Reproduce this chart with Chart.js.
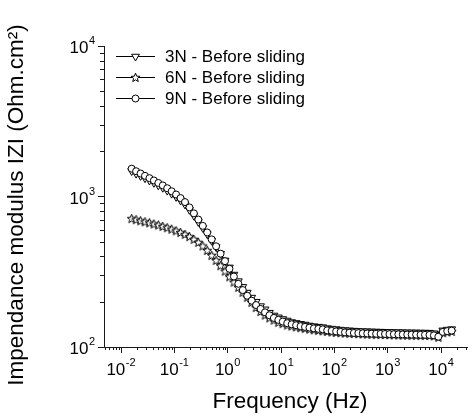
<!DOCTYPE html>
<html>
<head>
<meta charset="utf-8">
<title>Impendance modulus</title>
<script src="https://cdn.jsdelivr.net/npm/chart.js@4.4.1/dist/chart.umd.min.js"></script>
<style>
  html, body { margin: 0; padding: 0; background: #fff; }
  #wrap { width: 476px; height: 419px; }
</style>
</head>
<body>
<div id="wrap"><canvas id="impChart" width="476" height="419"></canvas></div>
<script>
// frequences (Hz)
const freq = [
  0.01585, 0.0192, 0.02326, 0.02818, 0.03415, 0.04137, 0.05012, 0.06072, 0.07356, 0.08913,
  0.108, 0.1308, 0.1585, 0.192, 0.2326, 0.2818, 0.3415, 0.4137, 0.5012, 0.6072, 0.7356, 0.8913,
  1.08, 1.308, 1.585, 1.92, 2.326, 2.818, 3.415, 4.137, 5.012, 6.072, 7.356, 8.913,
  10.8, 13.08, 15.85, 19.2, 23.26, 28.18, 34.15, 41.37, 50.12, 60.72, 73.56, 89.13,
  108, 130.8, 158.5, 192, 232.6, 281.8, 341.5, 413.7, 501.2, 607.2, 735.6, 891.3,
  1080, 1308, 1585, 1920, 2326, 2818, 3415, 4137, 5012, 6072, 7356, 8913,
  10800, 13080, 15850
];

// |Z| (Ohm.cm2)
const z3N = [
  1477, 1420, 1372, 1324, 1278, 1233, 1187, 1144, 1095, 1045,
  995, 942, 886, 816, 746, 678, 619, 563, 509, 462,
  417, 376, 338, 303, 274, 251, 230, 213, 200, 187,
  178, 169, 162, 157.5, 153.5, 150, 146.5, 144.5, 142.5, 141,
  139, 137.5, 136.5, 135.5, 133.5, 132.5, 131.5, 130.5, 129.5, 129,
  128.5, 128, 127.5, 127.3, 127, 126.7, 126.5, 126.3, 126, 125.8,
  125.6, 125.4, 125.2, 125.1, 125, 124.8, 124.7, 124.5, 123.5, 121,
  129, 130.5, 131.5
];
const z6N = [
  713, 702, 690, 679, 668, 657, 646, 633, 620, 607,
  592, 576, 560, 541, 519, 496, 469, 438, 406, 376,
  347, 319, 293, 270, 249, 231, 214, 198, 183, 172,
  163, 156, 151, 146, 143, 140, 138, 136, 134.5, 133,
  131.5, 130.3, 129, 128, 127, 126, 125, 124.5, 124, 123.5,
  123, 122.6, 122.3, 122, 121.7, 121.5, 121.3, 121, 120.8, 120.6,
  120.4, 120.2, 120, 119.9, 119.8, 119.6, 119.5, 119.3, 118.5, 116,
  124.5, 126, 127
];
const z9N = [
  1531, 1472, 1422, 1372, 1324, 1278, 1230, 1185, 1135, 1083,
  1031, 976, 918, 846, 773, 703, 638, 577, 519, 467,
  417, 372, 331, 294, 263, 239, 219, 203, 190, 179,
  170, 162.5, 156, 151.5, 147.5, 144, 141.5, 139.5, 137.5, 136,
  134.5, 133, 132, 131, 129, 128, 127, 126, 125, 124.5,
  124, 123.7, 123.3, 123, 122.7, 122.4, 122.2, 122, 121.8, 121.6,
  121.4, 121.2, 121, 120.9, 120.8, 120.6, 120.5, 120.3, 119.5, 117,
  126, 127.5, 128.5
];

const seriesNames = ["3N - Before sliding", "6N - Before sliding", "9N - Before sliding"];
const xTickExp = [-2, -1, 0, 1, 2, 3, 4];
const yTickExp = [2, 3, 4];
const xTitle = "Frequency (Hz)";
const yTitle = "Impendance modulus IZI (Ohm.cm²)";

const fontFam = '"Liberation Sans", Arial, sans-serif';
const axisColor = '#1a1a1a';

// etoile a 5 branches (Chart.js n'a que l'asterisque)
function makeStar() {
  const c = document.createElement('canvas');
  c.width = 11;
  c.height = 11;
  const g = c.getContext('2d');
  g.beginPath();
  for (let i = 0; i < 10; i++) {
    const r = i % 2 === 0 ? 4.7 : 2.0;
    const a = -Math.PI / 2 + i * Math.PI / 5;
    const px = 5.5 + r * Math.cos(a);
    const py = 5.8 + r * Math.sin(a);
    if (i === 0) g.moveTo(px, py); else g.lineTo(px, py);
  }
  g.closePath();
  g.fillStyle = '#fff';
  g.fill();
  g.strokeStyle = '#000';
  g.lineWidth = 1;
  g.stroke();
  return c;
}
const starImg = makeStar();

function toPoints(values) {
  return freq.map((f, i) => ({ x: f, y: values[i] }));
}

// "10" + exposant
function drawPow(ctx, exp, x, base, align) {
  const big = '17px ' + fontFam;
  const small = '11px ' + fontFam;
  const sup = String(exp);
  ctx.font = big;
  const w1 = ctx.measureText('10').width;
  ctx.font = small;
  const w2 = ctx.measureText(sup).width;
  const total = w1 + 0.5 + w2;
  let start = x;
  if (align === 'center') start = x - total / 2;
  if (align === 'right') start = x - total;
  ctx.textAlign = 'left';
  ctx.textBaseline = 'alphabetic';
  ctx.font = big;
  ctx.fillText('10', start, base);
  ctx.font = small;
  ctx.fillText(sup, start + w1 + 0.5, base - 9);
}

function legendMarker(ctx, idx, x, y) {
  ctx.lineWidth = 1;
  ctx.strokeStyle = '#000';
  ctx.fillStyle = '#fff';
  if (idx === 0) {
    const r = 4.5;
    ctx.beginPath();
    ctx.moveTo(x, y + r);
    ctx.lineTo(x - r * 0.866, y - r / 2);
    ctx.lineTo(x + r * 0.866, y - r / 2);
    ctx.closePath();
    ctx.fill();
    ctx.stroke();
  } else if (idx === 1) {
    ctx.drawImage(starImg, x - 5.5, y - 5.5);
  } else {
    ctx.beginPath();
    ctx.arc(x, y, 3.5, 0, Math.PI * 2);
    ctx.fill();
    ctx.stroke();
  }
}

const decorPlugin = {
  id: 'decor',
  afterDraw(chart) {
    const ctx = chart.ctx;
    const xs = chart.scales.x;
    const ys = chart.scales.y;
    const area = chart.chartArea;
    ctx.save();

    // petites graduations
    ctx.strokeStyle = axisColor;
    ctx.lineWidth = 1;
    ctx.beginPath();
    for (let e = -3; e <= 4; e++) {
      for (let m = 2; m <= 9; m++) {
        const v = m * Math.pow(10, e);
        if (v > xs.min && v < xs.max) {
          const px = Math.round(xs.getPixelForValue(v)) + 0.5;
          ctx.moveTo(px, area.bottom);
          ctx.lineTo(px, area.bottom + 3);
        }
        if (v > ys.min && v < ys.max) {
          const py = Math.round(ys.getPixelForValue(v)) + 0.5;
          ctx.moveTo(area.left, py);
          ctx.lineTo(area.left - 4, py);
        }
      }
    }
    ctx.stroke();

    // etiquettes des graduations
    ctx.fillStyle = '#000';
    xTickExp.forEach(e => {
      const px = xs.getPixelForValue(Math.pow(10, e));
      drawPow(ctx, e, px, area.bottom + 28, 'center');
    });
    yTickExp.forEach(e => {
      const py = ys.getPixelForValue(Math.pow(10, e));
      drawPow(ctx, e, area.left - 9, py + 7, 'right');
    });

    // titres des axes
    ctx.font = '22.5px ' + fontFam;
    ctx.textAlign = 'center';
    ctx.textBaseline = 'middle';
    ctx.fillText(xTitle, 290, 402);
    ctx.save();
    ctx.translate(17, 205);
    ctx.rotate(-Math.PI / 2);
    ctx.fillText(yTitle, 0, 0);
    ctx.restore();

    // legende
    const rows = [56, 77, 98];
    seriesNames.forEach((name, i) => {
      const y = rows[i];
      ctx.strokeStyle = '#000';
      ctx.beginPath();
      ctx.moveTo(116, y + 0.5);
      ctx.lineTo(155, y + 0.5);
      ctx.stroke();
      legendMarker(ctx, i, 135.5, y + 0.5);
      ctx.fillStyle = '#000';
      ctx.font = '17px ' + fontFam;
      ctx.textAlign = 'left';
      ctx.textBaseline = 'middle';
      ctx.fillText(name, 165, y + 1);
    });
    ctx.restore();
  }
};

const baseSet = {
  borderColor: '#000',
  borderWidth: 1,
  pointBorderColor: '#000',
  pointBackgroundColor: '#fff',
  pointBorderWidth: 1,
  tension: 0,
  fill: false
};

let myChart = document.getElementById('impChart');
let impChart = new Chart(myChart, {
  type: 'line',
  data: {
    datasets: [
      Object.assign({}, baseSet, {
        label: seriesNames[0], data: toPoints(z3N),
        pointStyle: 'triangle', pointRotation: 180, pointRadius: 4.5, order: 3
      }),
      Object.assign({}, baseSet, {
        label: seriesNames[1], data: toPoints(z6N),
        pointStyle: starImg, pointRadius: 4.5, order: 2
      }),
      Object.assign({}, baseSet, {
        label: seriesNames[2], data: toPoints(z9N),
        pointStyle: 'circle', pointRadius: 3.5, order: 1
      })
    ]
  },
  options: {
    responsive: false,
    animation: false,
    events: [],
    layout: { padding: { top: 46, right: 9, left: 0, bottom: 0 } },
    plugins: {
      legend: { display: false },
      tooltip: { enabled: false }
    },
    scales: {
      x: {
        type: 'logarithmic',
        min: 0.0048,
        max: 30700,
        afterBuildTicks: s => { s.ticks = xTickExp.map(e => ({ value: Math.pow(10, e) })); },
        afterFit: s => { s.height = 72; },
        ticks: { display: false },
        grid: { drawOnChartArea: false, drawTicks: true, tickLength: 6, color: axisColor, lineWidth: 1 },
        border: { display: true, color: axisColor, width: 1 }
      },
      y: {
        type: 'logarithmic',
        min: 100,
        max: 10000,
        afterBuildTicks: s => { s.ticks = yTickExp.map(e => ({ value: Math.pow(10, e) })); },
        afterFit: s => { s.width = 104; },
        ticks: { display: false },
        grid: { drawOnChartArea: false, drawTicks: true, tickLength: 6, color: axisColor, lineWidth: 1 },
        border: { display: true, color: axisColor, width: 1 }
      }
    }
  },
  plugins: [decorPlugin]
});
</script>
</body>
</html>
